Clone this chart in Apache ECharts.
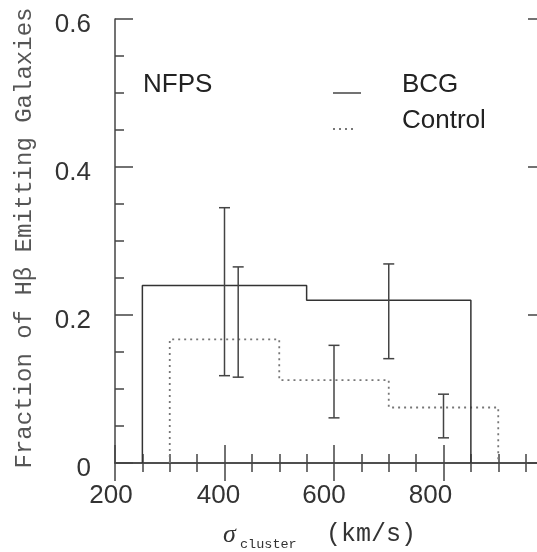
<!DOCTYPE html>
<html><head><meta charset="utf-8">
<script src="https://cdn.jsdelivr.net/npm/echarts@6/dist/echarts.min.js"></script>
<style>html,body{margin:0;padding:0;background:#fff}#c{width:537px;height:552px}</style>
</head><body><div id="c"></div>
<script>
const bcgEdges = [250, 550, 850];
const bcgFrac = [0.24, 0.22];
const ctrlEdges = [300, 500, 700, 900];
const ctrlFrac = [0.167, 0.112, 0.075];
const errX = [400, 425, 600, 700, 800];
const errLow = [0.118, 0.116, 0.061, 0.141, 0.034];
const errHigh = [0.345, 0.265, 0.159, 0.269, 0.093];
const xTickLabels = [200, 400, 600, 800];
const yTickLabels = ['0', '0.2', '0.4', '0.6'];
const seriesNames = ['BCG', 'Control'];
const panelLabel = 'NFPS';

function steps(edges, vals) {
  const pts = [[edges[0], 0]];
  for (let i = 0; i < vals.length; i++) {
    pts.push([edges[i], vals[i]]);
    pts.push([edges[i + 1], vals[i]]);
  }
  pts.push([edges[edges.length - 1], 0]);
  return pts;
}
const errData = errX.map((x, i) => [x, errLow[i], errHigh[i]]);

const AX = '#444';
const sans = 'Liberation Sans';
const mono = 'Liberation Mono';

const xShift = { 200: 4, 400: 6, 600: 10, 800: 13 };
const xRich = {};
xTickLabels.forEach(v => { xRich['t' + v] = { padding: [0, 2 * xShift[v], 0, 0], fontFamily: sans, fontSize: 26, color: '#333' }; });
const yRich = { d: { padding: [12, 0, 0, 0], fontFamily: sans, fontSize: 26, color: '#333' } };

function xAxisDef(pos, showLabel) {
  return {
    type: 'value', position: pos, min: 200, max: 1000, interval: 200,
    axisLine: { show: true, lineStyle: { color: AX, width: 1.5 } },
    axisTick: { show: true, inside: true, length: 18, lineStyle: { color: AX, width: 1.5 } },
    minorTick: { show: true, splitNumber: 4, length: 9, lineStyle: { color: AX, width: 1.5 } },
    splitLine: { show: false },
    axisLabel: {
      show: showLabel, margin: 20, color: '#333', fontFamily: sans, fontSize: 26, rich: xRich,
      formatter: v => (xTickLabels.indexOf(v) >= 0 ? '{t' + v + '|' + v + '}' : '')
    }
  };
}
function yAxisDef(pos, showLabel, offset) {
  return {
    type: 'value', position: pos, offset: offset, min: 0, max: 0.6, interval: 0.2,
    axisLine: { show: true, lineStyle: { color: AX, width: 1.5 } },
    axisTick: { show: true, inside: true, length: 18, lineStyle: { color: AX, width: 1.5 } },
    minorTick: { show: true, splitNumber: 4, length: 9, lineStyle: { color: AX, width: 1.5 } },
    splitLine: { show: false },
    axisLabel: {
      show: showLabel, margin: 24, color: '#333', fontFamily: sans, fontSize: 26, rich: yRich,
      formatter: v => '{d|' + yTickLabels[Math.round(v / 0.2)] + '}'
    }
  };
}

const chart = echarts.init(document.getElementById('c'), null, { renderer: 'canvas' });
chart.setOption({
  animation: false,
  backgroundColor: '#fff',
  grid: { left: 115, top: 19, width: 438, height: 444, containLabel: false, outerBoundsMode: 'none' },
  xAxis: [xAxisDef('bottom', true), xAxisDef('top', false)],
  yAxis: [yAxisDef('left', true, 0), yAxisDef('right', false, -7)],
  series: [
    {
      name: seriesNames[0], type: 'line', data: steps(bcgEdges, bcgFrac), symbol: 'none',
      lineStyle: { color: '#333', width: 1.5 }, z: 3
    },
    {
      name: seriesNames[1], type: 'line', data: steps(ctrlEdges, ctrlFrac), symbol: 'none',
      lineStyle: { color: '#777', width: 1.8, type: [2, 4] }, z: 2
    },
    {
      type: 'custom', data: errData, z: 4,
      renderItem: function (params, api) {
        const x = api.value(0), lo = api.value(1), hi = api.value(2);
        const a = api.coord([x, lo]), b = api.coord([x, hi]);
        const w = 5.5;
        const st = { stroke: '#444', lineWidth: 1.5 };
        return {
          type: 'group', children: [
            { type: 'line', shape: { x1: a[0], y1: a[1], x2: b[0], y2: b[1] }, style: st },
            { type: 'line', shape: { x1: a[0] - w, y1: a[1], x2: a[0] + w, y2: a[1] }, style: st },
            { type: 'line', shape: { x1: b[0] - w, y1: b[1], x2: b[0] + w, y2: b[1] }, style: st }
          ]
        };
      }
    }
  ],
  graphic: [
    { type: 'text', left: 143, top: 72, style: { text: panelLabel, fontFamily: sans, fontSize: 26, fill: '#222' } },
    { type: 'text', left: 402, top: 72, style: { text: seriesNames[0], fontFamily: sans, fontSize: 26, fill: '#222' } },
    { type: 'text', left: 402, top: 108, style: { text: seriesNames[1], fontFamily: sans, fontSize: 26, fill: '#222' } },
    { type: 'line', shape: { x1: 333, y1: 93, x2: 361, y2: 93 }, style: { stroke: '#444', lineWidth: 1.5 } },
    { type: 'line', shape: { x1: 333, y1: 129, x2: 357, y2: 129 }, style: { stroke: '#777', lineWidth: 1.8, lineDash: [2, 4] } },
    { type: 'text', x: 25, y: 238, rotation: Math.PI / 2,
      style: { text: 'Fraction of H\u03B2 Emitting Galaxies', fontFamily: mono, fontSize: 24, fill: '#555', align: 'center', verticalAlign: 'middle' } },
    { type: 'text', x: 223, y: 535, style: { text: '\u03C3', fontFamily: 'Liberation Serif', fontStyle: 'italic', fontSize: 26, fill: '#333', verticalAlign: 'middle' } },
    { type: 'text', x: 240, y: 544, style: { text: 'cluster', fontFamily: mono, fontSize: 13.5, fill: '#333', verticalAlign: 'middle' } },
    { type: 'text', x: 326, y: 534, style: { text: '(km/s)', fontFamily: mono, fontSize: 25, fill: '#333', verticalAlign: 'middle' } }
  ]
});
</script>
</body></html>
